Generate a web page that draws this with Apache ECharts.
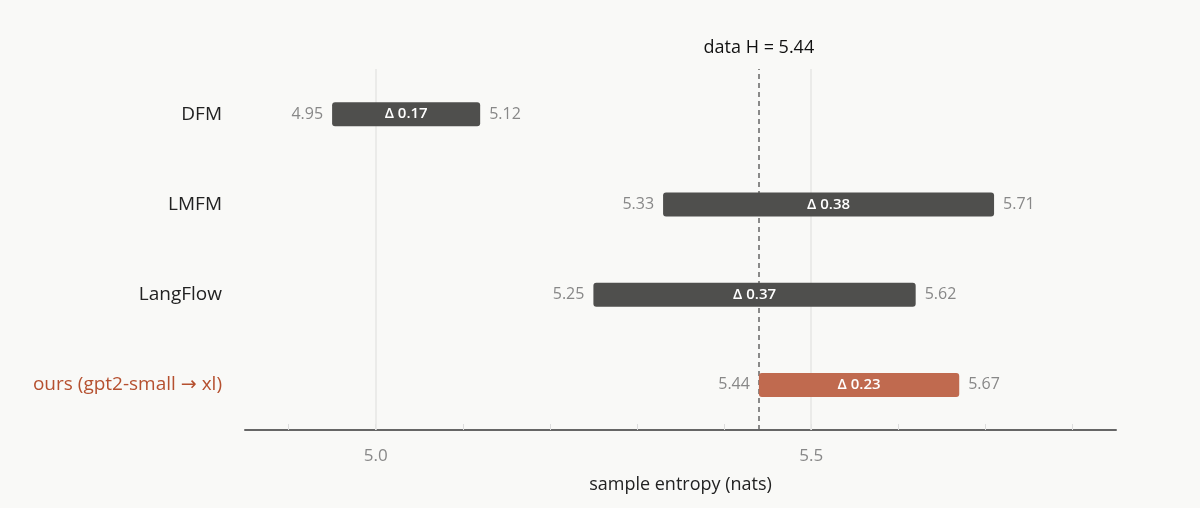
<!DOCTYPE html>
<html lang="en">
<head>
<meta charset="UTF-8" />
<title>sample entropy</title>
<script src="https://cdn.jsdelivr.net/npm/echarts@6/dist/echarts.min.js"></script>
<style>
  html, body { margin: 0; padding: 0; background: #f9f9f7; }
  #main { width: 1200px; height: 508px; }
</style>
</head>
<body>
<div id="main"></div>
<script>
// models, bottom row first so ours sits at the bottom
var models = ['ours (gpt2-small \u2192 xl)', 'LangFlow', 'LMFM', 'DFM'];
var lowValues = [5.44, 5.25, 5.33, 4.95];
var highValues = [5.67, 5.62, 5.71, 5.12];
var deltaLabels = ['\u0394 0.23', '\u0394 0.37', '\u0394 0.38', '\u0394 0.17'];
var dataH = 5.44;
var tickValues = [4.9, 5.0, 5.1, 5.2, 5.3, 5.4, 5.5, 5.6, 5.7, 5.8];
var labelValues = [5.0, 5.5];

var FONT = '"Open Sans", "DejaVu Sans", sans-serif';
var oursColor = '#c06a4f';
var barColor = '#4f4f4d';

var rows = models.map(function (m, i) {
  return [lowValues[i], highValues[i], i];
});

var myChart = echarts.init(document.getElementById('main'));

myChart.setOption({
  backgroundColor: '#f9f9f7',
  animation: false,
  textStyle: { fontFamily: FONT },
  grid: { left: 245, right: 84, top: 69, bottom: 78 },
  xAxis: {
    type: 'value',
    min: 4.85,
    max: 5.85,
    name: 'sample entropy (nats)',
    nameLocation: 'middle',
    nameGap: 46,
    nameTextStyle: { fontSize: 18, color: '#222', fontFamily: FONT },
    axisLine: { show: true, lineStyle: { color: '#666', width: 2 } },
    axisTick: { show: true, inside: true, length: 6, customValues: tickValues, lineStyle: { color: '#ddd', width: 1 } },
    axisLabel: {
      customValues: labelValues,
      margin: 18,
      fontSize: 17,
      color: '#888',
      fontFamily: FONT,
      formatter: function (v) { return v.toFixed(1); }
    },
    splitLine: { show: false }
  },
  yAxis: {
    type: 'category',
    data: models,
    axisLine: { show: false },
    axisTick: { show: false },
    axisLabel: {
      margin: 23,
      fontSize: 19,
      fontFamily: FONT,
      color: function (v, i) { return i === 0 ? '#b5502f' : '#222'; }
    }
  },
  series: [
    {
      // gridlines at the labelled ticks, behind the bars
      type: 'line',
      data: [],
      z: 1,
      markLine: {
        silent: true,
        symbol: 'none',
        label: { show: false },
        lineStyle: { color: '#e6e6e4', width: 1.5, type: 'solid' },
        data: labelValues.map(function (v) { return { xAxis: v }; })
      }
    },
    {
      type: 'custom',
      z: 5,
      data: rows,
      renderItem: function (params, api) {
        var i = api.value(2);
        var p0 = api.coord([api.value(0), i]);
        var p1 = api.coord([api.value(1), i]);
        var h = 24;
        var color = i === 0 ? oursColor : barColor;
        return {
          type: 'group',
          children: [
            {
              type: 'rect',
              shape: { x: p0[0], y: p0[1] - h / 2, width: p1[0] - p0[0], height: h, r: 3 },
              style: { fill: color }
            },
            {
              type: 'text',
              x: (p0[0] + p1[0]) / 2, y: p0[1],
              style: { text: deltaLabels[i], fill: '#fff', fontSize: 15, fontWeight: 600, fontFamily: FONT, align: 'center', verticalAlign: 'middle' }
            },
            {
              type: 'text',
              x: p0[0] - 9, y: p0[1],
              style: { text: lowValues[i].toFixed(2), fill: '#888', fontSize: 16, fontFamily: FONT, align: 'right', verticalAlign: 'middle' }
            },
            {
              type: 'text',
              x: p1[0] + 9, y: p1[1],
              style: { text: highValues[i].toFixed(2), fill: '#888', fontSize: 16, fontFamily: FONT, align: 'left', verticalAlign: 'middle' }
            }
          ]
        };
      }
    },
    {
      type: 'line',
      data: [],
      z: 8,
      markLine: {
        silent: true,
        symbol: 'none',
        lineStyle: { color: '#666', width: 1.5, type: [5, 4] },
        label: {
          show: true,
          position: 'end',
          distance: 12,
          formatter: 'data H = ' + dataH,
          fontSize: 18,
          fontWeight: 500,
          color: '#111',
          fontFamily: FONT
        },
        data: [{ xAxis: dataH }]
      }
    }
  ]
});
</script>
</body>
</html>
